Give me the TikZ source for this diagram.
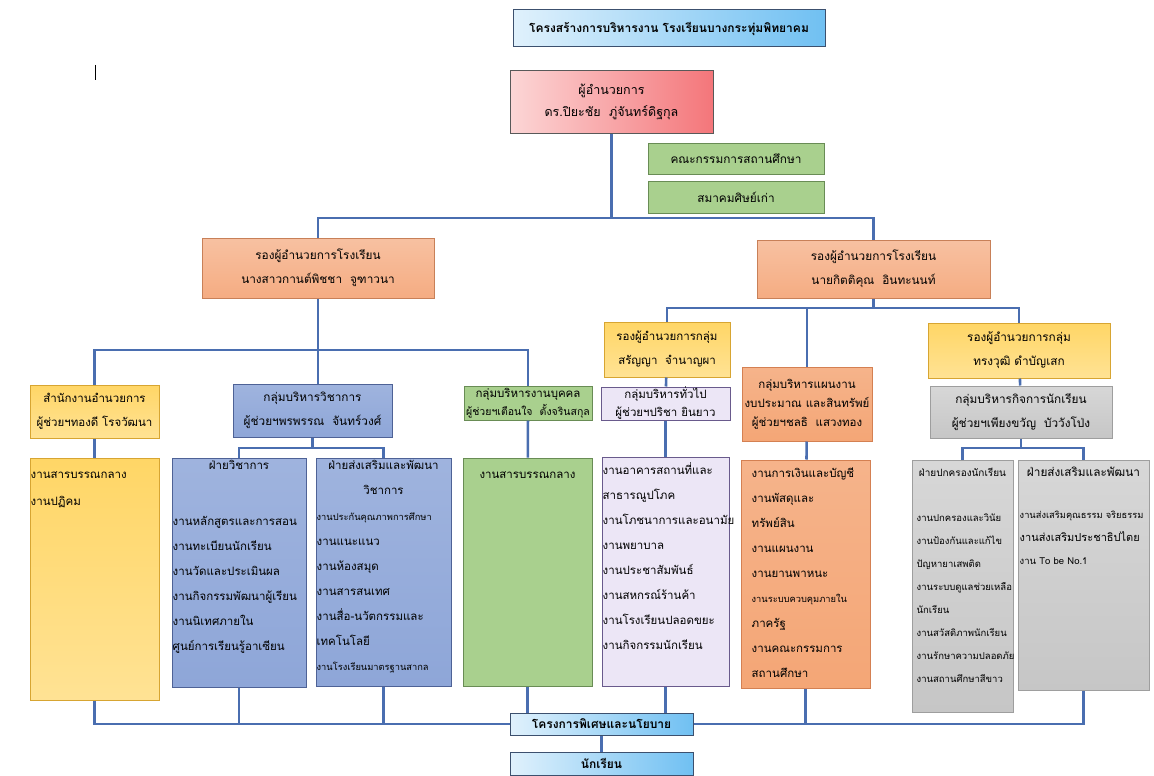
\documentclass[tikz,border=0pt]{standalone}
\usepackage{fontspec}
\newfontfamily\thai[Script=Thai]{Loma}
\usetikzlibrary{positioning}

\definecolor{linkblue}{RGB}{74,110,176}
\definecolor{skyL}{RGB}{224,241,252}
\definecolor{skyR}{RGB}{112,192,242}
\definecolor{skyD}{RGB}{60,80,110}
\definecolor{pinkL}{RGB}{252,214,214}
\definecolor{pinkR}{RGB}{244,118,122}
\definecolor{leaf}{RGB}{169,208,142}
\definecolor{leafD}{RGB}{105,140,85}
\definecolor{salmon}{RGB}{245,172,130}
\definecolor{salmonD}{RGB}{200,128,88}
\definecolor{gold}{RGB}{255,214,102}
\definecolor{goldD}{RGB}{215,165,50}
\definecolor{steel}{RGB}{142,166,216}
\definecolor{steelD}{RGB}{78,98,150}
\definecolor{lilac}{RGB}{236,230,246}
\definecolor{lilacD}{RGB}{105,90,140}
\definecolor{peach}{RGB}{244,166,118}
\definecolor{peachD}{RGB}{212,128,82}
\definecolor{ash}{RGB}{198,198,198}
\definecolor{ashD}{RGB}{158,158,158}

\begin{document}
\begin{tikzpicture}[x=1pt,y=-1pt,
  unitbox/.style={rectangle,draw,line width=1pt,inner sep=0pt,align=center,
    font=\thai\fontsize{11.8}{24}\selectfont},
  skybox/.style={unitbox,draw=skyD,left color=skyL,right color=skyR,
    font=\thai\bfseries\fontsize{12}{24}\selectfont},
  chiefbox/.style={unitbox,draw=black!65,left color=pinkL,right color=pinkR,
    font=\thai\fontsize{12.5}{22}\selectfont},
  leafbox/.style={unitbox,draw=leafD,fill=leaf},
  salbox/.style={unitbox,draw=salmonD,top color=salmon!75!white,bottom color=salmon},
  goldbox/.style={unitbox,draw=goldD,top color=gold,bottom color=gold!70!white},
  steelbox/.style={unitbox,draw=steelD,top color=steel!85!white,bottom color=steel},
  lilacbox/.style={unitbox,draw=lilacD,fill=lilac},
  peachbox/.style={unitbox,draw=peachD,top color=peach!85!white,bottom color=peach},
  ashbox/.style={unitbox,draw=ashD,top color=ash!70!white,bottom color=ash},
  tasks/.style={anchor=north west,inner sep=0pt,align=left,
    font=\thai\fontsize{11.5}{25}\selectfont},
  heading/.style={anchor=north,inner sep=0pt,align=center,
    font=\thai\fontsize{11.5}{25}\selectfont},
  link/.style={draw=linkblue,line width=2.6pt}]
\useasboundingbox (0,0) rectangle (1154,776);
\path
(669,28.5) node[skybox,minimum width=312pt,minimum height=37pt] (title) {โครงสร้างการบริหารงาน โรงเรียนบางกระทุ่มพิทยาคม}
(611.5,102) node[chiefbox,minimum width=203pt,minimum height=62pt] (chief) {ผู้อำนวยการ\\ดร.ปิยะชัย~~ภู่จันทร์ดิฐกุล}
(736,158.5) node[leafbox,minimum width=176pt,minimum height=31pt] (board) {คณะกรรมการสถานศึกษา}
(736,197) node[leafbox,minimum width=176pt,minimum height=32pt] (alumni) {สมาคมศิษย์เก่า}

(318,268) node[salbox,minimum width=232pt,minimum height=60pt] (depL) {รองผู้อำนวยการโรงเรียน\\นางสาวกานต์พิชชา~~จูฑาวนา}
(873.5,269) node[salbox,minimum width=233pt,minimum height=58pt] (depR) {รองผู้อำนวยการโรงเรียน\\นายกิตติคุณ~~อินทะนนท์}

(94.5,411.5) node[goldbox,minimum width=129pt,minimum height=53pt,font=\thai\fontsize{11.5}{24}\selectfont] (office) {สำนักงานอำนวยการ\\ผู้ช่วยฯทองดี โรจวัฒนา}
(94.5,579) node[goldbox,minimum width=129pt,minimum height=242pt] (officeW) {}
(312.5,410.5) node[steelbox,minimum width=159pt,minimum height=53pt] (acad) {กลุ่มบริหารวิชาการ\\ผู้ช่วยฯพรพรรณ~~จันทร์วงศ์}
(239,572.5) node[steelbox,minimum width=134pt,minimum height=229pt] (acadA) {}
(383.5,572) node[steelbox,minimum width=135pt,minimum height=228pt] (acadB) {}
(528,403) node[leafbox,minimum width=128pt,minimum height=34pt,font=\thai\fontsize{11.5}{18}\selectfont] (staff) {กลุ่มบริหารงานบุคคล\\{\fontsize{10.5}{18}\selectfont ผู้ช่วยฯเตือนใจ~~ตั้งจรินสกุล}}
(527.5,572) node[leafbox,minimum width=129pt,minimum height=228pt] (staffW) {}

(667,349.5) node[goldbox,minimum width=126pt,minimum height=55pt,font=\thai\fontsize{11.5}{24}\selectfont] (depG) {รองผู้อำนวยการกลุ่ม\\สรัญญา~~จำนาญผา}
(665.5,403.5) node[lilacbox,minimum width=129pt,minimum height=33pt,font=\thai\fontsize{11.5}{18}\selectfont] (general) {กลุ่มบริหารทั่วไป\\ผู้ช่วยฯปริชา ยินยาว}
(665.5,571.5) node[lilacbox,minimum width=127pt,minimum height=229pt] (generalW) {}
(807,404) node[peachbox,minimum width=130pt,minimum height=74pt,font=\thai\fontsize{11.5}{19}\selectfont] (plan) {กลุ่มบริหารแผนงาน\\งบประมาณ และสินทรัพย์\\ผู้ช่วยฯชลธิ~~แสวงทอง}
(805.5,574) node[peachbox,minimum width=129pt,minimum height=228pt] (planW) {}
(1019,350.5) node[goldbox,minimum width=182pt,minimum height=55pt] (depS) {รองผู้อำนวยการกลุ่ม\\ทรงวุฒิ ดำบัญเสก}
(1021,412) node[ashbox,minimum width=182pt,minimum height=52pt] (pupilA) {กลุ่มบริหารกิจการนักเรียน\\ผู้ช่วยฯเพียงขวัญ~~บัววังโป่ง}
(962.5,586) node[ashbox,minimum width=101pt,minimum height=252pt] (pupilL) {}
(1083.5,575) node[ashbox,minimum width=131pt,minimum height=230pt] (pupilR) {}

(601.5,724) node[skybox,minimum width=183pt,minimum height=22pt] (special) {โครงการพิเศษและนโยบาย}
(601.5,763.5) node[skybox,minimum width=183pt,minimum height=23pt] (pupils) {นักเรียน};

% task lists
\node[tasks] (officeT) at ([shift={(1,3)}]officeW.north west) {\strut งานสารบรรณกลาง\\[2pt]งานปฏิคม};
\node[heading] (acadAH) at ([shift={(0,-6)}]acadA.north) {\strut ฝ่ายวิชาการ};
\node[tasks] (acadAT) at ([shift={(1,50)}]acadA.north west) {\strut งานหลักสูตรและการสอน\\งานทะเบียนนักเรียน\\งานวัดและประเมินผล\\งานกิจกรรมพัฒนาผู้เรียน\\งานนิเทศภายใน\\ศูนย์การเรียนรู้อาเซียน};
\node[heading] (acadBH) at ([shift={(0,-6)}]acadB.north) {\strut ฝ่ายส่งเสริมและพัฒนา\\วิชาการ};
\node[tasks] (acadBT) at ([shift={(1,45)}]acadB.north west) {\strut {\fontsize{9.3}{25}\selectfont งานประกันคุณภาพการศึกษา}\\งานแนะแนว\\งานห้องสมุด\\งานสารสนเทศ\\งานสื่อ-นวัตกรรมและ\\เทคโนโลยี\\{\fontsize{9.3}{25}\selectfont งานโรงเรียนมาตรฐานสากล}};
\node[heading] (staffT) at ([shift={(0,3)}]staffW.north) {\strut งานสารบรรณกลาง};
\node[tasks] (generalT) at ([shift={(1,0)}]generalW.north west) {\strut งานอาคารสถานที่และ\\สาธารณูปโภค\\งานโภชนาการและอนามัย\\งานพยาบาล\\งานประชาสัมพันธ์\\งานสหกรณ์ร้านค้า\\งานโรงเรียนปลอดขยะ\\งานกิจกรรมนักเรียน};
\node[tasks] (planT) at ([shift={(11,0)}]planW.north west) {\strut งานการเงินและบัญชี\\งานพัสดุและ\\ทรัพย์สิน\\งานแผนงาน\\งานยานพาหนะ\\{\fontsize{9.3}{25}\selectfont งานระบบควบคุมภายใน}\\ภาครัฐ\\งานคณะกรรมการ\\สถานศึกษา};
\node[heading,font=\thai\fontsize{10}{23}\selectfont] (pupilLH) at ([shift={(0,1)}]pupilL.north) {\strut ฝ่ายปกครองนักเรียน};
\node[tasks,font=\thai\fontsize{9.5}{23}\selectfont] (pupilLT) at ([shift={(5,46)}]pupilL.north west) {\strut งานปกครองและวินัย\\งานป้องกันและแก้ไข\\ปัญหายาเสพติด\\งานระบบดูแลช่วยเหลือ\\นักเรียน\\งานสวัสดิภาพนักเรียน\\งานรักษาความปลอดภัย\\งานสถานศึกษาสีขาว};
\node[heading,font=\thai\fontsize{11.8}{23}\selectfont] (pupilRH) at ([shift={(0,1)}]pupilR.north) {\strut ฝ่ายส่งเสริมและพัฒนา};
\node[tasks,font=\thai\fontsize{11}{23}\selectfont] (pupilRT) at ([shift={(2,43)}]pupilR.north west) {\strut {\fontsize{9.3}{23}\selectfont งานส่งเสริมคุณธรรม จริยธรรม}\\งานส่งเสริมประชาธิปไตย\\{\fontsize{9.5}{23}\selectfont งาน To be No.1}};

% joints
\coordinate (jTop) at (611.5,218);
\coordinate (jLeft) at (318,350);
\coordinate (jRight) at (873.5,308);
\coordinate (jAcad) at (312.5,448);
\coordinate (jPupil) at (1021,448);

\draw[link] (chief) -- (jTop);
\draw[link] (depL.north) |- (jTop) -| (depR.north);
\draw[link] (depL.south) -- (depL.south |- acad.north);
\draw[link] (office.north) |- (jLeft) -| (staff.north);
\draw[link] (office) -- (officeW);
\draw[link] (acad) -- (jAcad);
\draw[link] (acadA.north) |- (jAcad) -| (acadB.north);
\draw[link] (staff) -- (staffW);
\draw[link] (depR) -- (jRight);
\draw[link] (depG.north) |- (jRight) -| (depS.north);
\draw[link] (plan.north) -- (plan.north |- jRight);
\draw[link] (depG) -- (general);
\draw[link] (general) -- (generalW);
\draw[link] (plan) -- (planW);
\draw[link] (depS) -- (pupilA);
\draw[link] (pupilA) -- (jPupil);
\draw[link] (pupilL.north) |- (jPupil) -| (pupilR.north);
\draw[link] (officeW.south) |- (special.west);
\draw[link] (acadA.south) -- (acadA.south |- special.west);
\draw[link] (acadB.south) -- (acadB.south |- special.west);
\draw[link] (staffW.south) -- (staffW.south |- special.north);
\draw[link] (generalW.south) -- (generalW.south |- special.north);
\draw[link] (special.east) -| (pupilR.south);
\draw[link] (planW.south) -- (planW.south |- special.east);
\draw[link] (special) -- (pupils);
\draw[line width=0.8pt] (95,65) -- (95,80);
\end{tikzpicture}
\end{document}
